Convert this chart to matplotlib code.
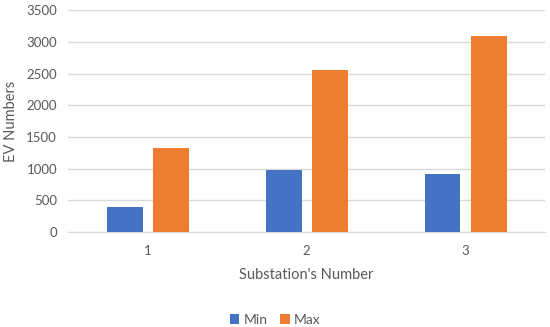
import matplotlib
matplotlib.use("Agg")
import matplotlib.pyplot as plt
import numpy as np

# Chart data
substations = ["1", "2", "3"]
minValues = [400, 980, 920]
maxValues = [1330, 2550, 3100]

plt.rcParams['font.family'] = ['Lato', 'DejaVu Sans']

fig = plt.figure(figsize=(5.5, 3.27), dpi=100)
ax = fig.add_axes([0.124, 0.29, 0.867, 0.679])

x = np.arange(len(substations))
width = 0.226
offset = 0.145

ax.bar(x - offset, minValues, width, color="#4472C4", label="Min", zorder=3)
ax.bar(x + offset, maxValues, width, color="#ED7D31", label="Max", zorder=3)

ax.set_xlim(-0.5, 2.5)
ax.set_ylim(0, 3500)
ax.set_yticks(np.arange(0, 3501, 500))
ax.set_xticks(x)
ax.set_xticklabels(substations)

# Excel-like styling
ax.grid(True, axis="y", color="#D9D9D9", linewidth=1, zorder=0)
for side in ["top", "right", "left"]:
    ax.spines[side].set_visible(False)
ax.spines["bottom"].set_color("#D9D9D9")
ax.tick_params(axis="both", length=0, colors="#595959", labelsize=9.5)
ax.tick_params(axis="x", pad=9)
ax.tick_params(axis="y", pad=8)

ax.set_xlabel("Substation's Number", fontsize=10.5, color="#595959", labelpad=8)
ax.set_ylabel("EV Numbers", fontsize=10.5, color="#595959", labelpad=6)

fig.legend(loc="lower center", bbox_to_anchor=(0.5, -0.035), ncol=2, frameon=False,
           fontsize=10, handlelength=0.7, handleheight=0.7, handletextpad=0.3,
           columnspacing=0.9, labelcolor="#595959")

plt.savefig("out.png")
